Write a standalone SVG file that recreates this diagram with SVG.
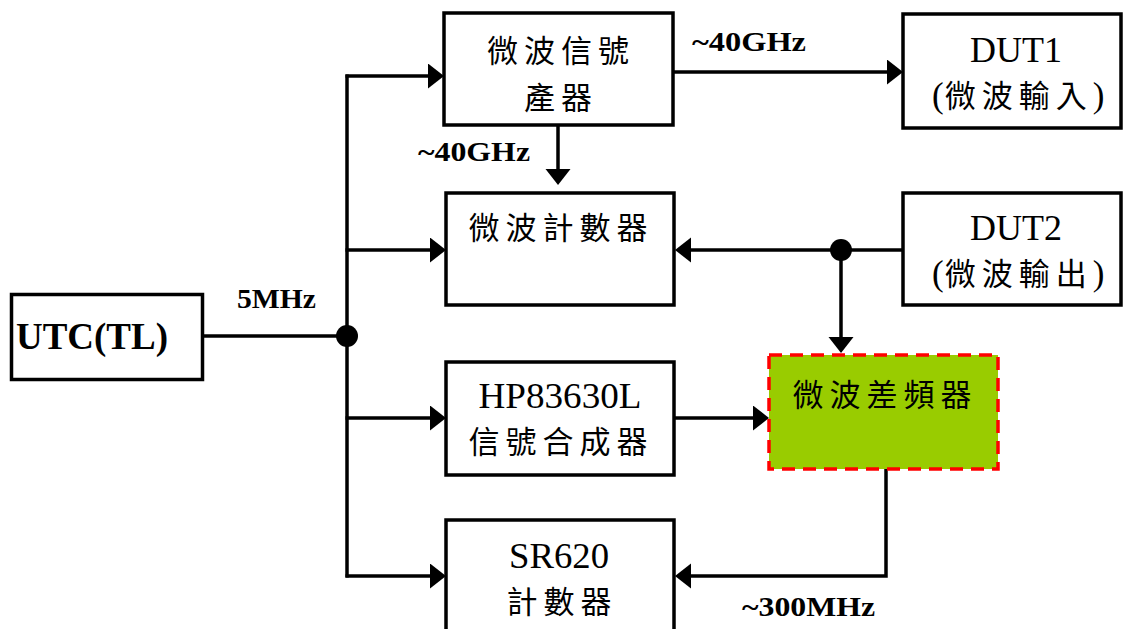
<svg xmlns="http://www.w3.org/2000/svg" width="1125" height="629" viewBox="0 0 1125 629">
<defs>
<style>
.box{fill:#fff;stroke:#000;stroke-width:3.5}
.mix{fill:#99CC00;stroke:#FF0000;stroke-width:3.5;stroke-dasharray:13 8}
.ln{fill:none;stroke:#000;stroke-width:3.5;marker-end:url(#ah)}
.ln0{fill:none;stroke:#000;stroke-width:3.5}
.cjk{font-family:"Noto Sans CJK TC",sans-serif;font-size:31px;fill:#000;letter-spacing:6px}
.lat{font-family:"Liberation Serif",serif;font-size:35px;fill:#000}
.lbl{font-family:"Liberation Serif",serif;font-size:28px;font-weight:bold;fill:#000}
</style>
<marker id="ah" markerUnits="userSpaceOnUse" markerWidth="18" markerHeight="26" refX="13" refY="12.5" orient="auto">
<path d="M0,0 L16,12.5 L0,25 Z" fill="#000"/>
</marker>
</defs>
<g id="connectors">
<line class="ln0" x1="203" y1="336" x2="347" y2="336"/>
<line class="ln0" x1="347" y1="74.5" x2="347" y2="577.5"/>
<polyline class="ln" points="345.5,76 441,76"/>
<polyline class="ln" points="345.5,250 443,250"/>
<polyline class="ln" points="345.5,418 443,418"/>
<polyline class="ln" points="345.5,576 443,576"/>
<polyline class="ln" points="558,125 558,182"/>
<polyline class="ln" points="673,72 900,72"/>
<polyline class="ln" points="903,250 678,250"/>
<polyline class="ln" points="841,250 841,350"/>
<polyline class="ln" points="674,418 766,418"/>
<polyline class="ln" points="886,469 886,576 678,576"/>
<circle cx="347" cy="336" r="11" fill="#000"/>
<circle cx="841" cy="250" r="11" fill="#000"/>
<text class="lbl" x="692" y="51" textLength="114" lengthAdjust="spacingAndGlyphs">~40GHz</text>
<text class="lbl" x="418" y="161" textLength="112" lengthAdjust="spacingAndGlyphs">~40GHz</text>
<text class="lbl" x="237" y="308" textLength="79" lengthAdjust="spacingAndGlyphs">5MHz</text>
<text class="lbl" x="742" y="616" textLength="133" lengthAdjust="spacingAndGlyphs">~300MHz</text>
</g>
<g id="utc">
<rect class="box" x="11.5" y="294.5" width="191" height="85"/>
<text class="lbl" x="16" y="349" style="font-size:38px" textLength="152" lengthAdjust="spacingAndGlyphs">UTC(TL)</text>
</g>
<g id="mw-generator">
<rect class="box" x="444" y="13" width="229" height="112"/>
<text class="cjk" x="561" y="62" text-anchor="middle">微波信號</text>
<text class="cjk" x="561" y="109" text-anchor="middle">產器</text>
</g>
<g id="mw-counter">
<rect class="box" x="446" y="193" width="228" height="112"/>
<text class="cjk" x="561" y="239" text-anchor="middle">微波計數器</text>
</g>
<g id="dut1">
<rect class="box" x="903" y="14" width="218" height="114"/>
<text class="lat" x="1016" y="62" text-anchor="middle" textLength="92" lengthAdjust="spacingAndGlyphs">DUT1</text>
<text class="lat" x="932" y="107"><tspan>(</tspan><tspan class="cjk" dx="1" style="letter-spacing:6px">微波輸入</tspan><tspan>)</tspan></text>
</g>
<g id="dut2">
<rect class="box" x="903" y="193" width="218" height="112"/>
<text class="lat" x="1016" y="240" text-anchor="middle" textLength="92" lengthAdjust="spacingAndGlyphs">DUT2</text>
<text class="lat" x="932" y="285"><tspan>(</tspan><tspan class="cjk" dx="1" style="letter-spacing:6px">微波輸出</tspan><tspan>)</tspan></text>
</g>
<g id="hp83630l">
<rect class="box" x="446" y="362" width="228" height="113"/>
<text class="lat" x="560" y="408" text-anchor="middle" textLength="163" lengthAdjust="spacingAndGlyphs">HP83630L</text>
<text class="cjk" x="561" y="453" text-anchor="middle">信號合成器</text>
</g>
<g id="mixer">
<rect class="mix" x="769" y="355" width="229" height="114"/>
<text class="cjk" x="885" y="406" text-anchor="middle">微波差頻器</text>
</g>
<g id="sr620">
<rect class="box" x="446" y="520" width="228" height="125"/>
<text class="lat" x="559" y="568" text-anchor="middle" textLength="100" lengthAdjust="spacingAndGlyphs">SR620</text>
<text class="cjk" x="562" y="613" text-anchor="middle">計數器</text>
</g>
</svg>
